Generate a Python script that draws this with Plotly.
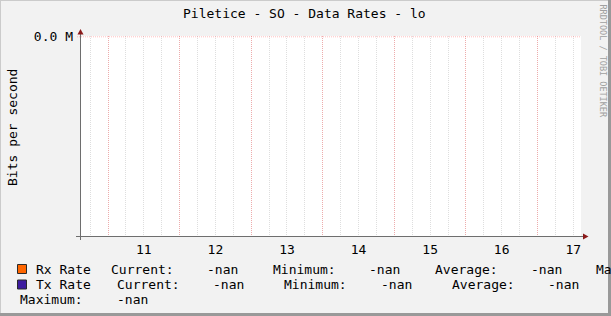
import plotly.graph_objects as go

# ---------------- data ----------------
day_ticks = [11.5, 12.5, 13.5, 14.5, 15.5, 16.5, 17.5]      # noon of each day (label position)
day_labels = ["11", "12", "13", "14", "15", "16", "17"]
day_bounds = [11, 12, 13, 14, 15, 16, 17]                    # midnights (major grid)
x_range = [10.608, 17.608]

sample_times = [11, 12, 13, 14, 15, 16, 17]
rx_rate = [None, None, None, None, None, None, None]        # all NaN in source
tx_rate = [None, None, None, None, None, None, None]

y_tickvals = [0]
y_ticktext = ["0.0 M"]

series_names = ["Rx Rate", "Tx Rate"]
series_colors = ["#FF6600", "#3D1C9F"]
stat_labels = ["Current:", "Minimum:", "Average:", "Maximum:"]
rx_stats = ["-nan", "-nan", "-nan", "-nan"]
tx_stats = ["-nan", "-nan", "-nan", "-nan"]

title = "Piletice - SO - Data Rates - lo"
y_title = "Bits per second"
watermark = "RRDTOOL / TOBI OETIKER"

# ---------------- geometry helpers ----------------
W, H = 611, 316
L, R, T, B = 80, 30, 36, 80
PW, PH = W - L - R, H - T - B
FONT = "DejaVu Sans Mono"


def xp(px):
    return (px - L) / PW


def yp(py):
    return (H - B - py) / PH


fig = go.Figure()
fig.add_trace(go.Scatter(x=sample_times, y=rx_rate, mode="lines", name=series_names[0],
                         line=dict(color=series_colors[0]), showlegend=False, xaxis="x", yaxis="y"))
fig.add_trace(go.Scatter(x=sample_times, y=tx_rate, mode="lines", name=series_names[1],
                         line=dict(color=series_colors[1]), showlegend=False, xaxis="x2", yaxis="y"))

MAJ = "rgba(255,110,110,0.45)"
MIN = "rgba(195,195,195,0.55)"

shapes = []
annotations = []

# frame
shapes.append(dict(type="line", xref="paper", yref="paper", x0=xp(0.5), x1=xp(0.5), y0=yp(0), y1=yp(H),
                   line=dict(color="#CBCBCB", width=1)))
shapes.append(dict(type="line", xref="paper", yref="paper", x0=xp(0), x1=xp(W), y0=yp(0.5), y1=yp(0.5),
                   line=dict(color="#CBCBCB", width=1)))
shapes.append(dict(type="line", xref="paper", yref="paper", x0=xp(W - 1.5), x1=xp(W - 1.5), y0=yp(0), y1=yp(H),
                   line=dict(color="#999999", width=3)))
shapes.append(dict(type="line", xref="paper", yref="paper", x0=xp(0), x1=xp(W), y0=yp(H - 1.5), y1=yp(H - 1.5),
                   line=dict(color="#999999", width=3)))

# major horizontal grid line at the y tick (edge of plot, so drawn explicitly)
for v in y_tickvals:
    shapes.append(dict(type="line", xref="paper", yref="y", x0=xp(77), x1=1, y0=v, y1=v,
                       line=dict(color=MAJ, width=1, dash="1px,1px"), layer="above"))

# axis lines + arrows
AX = "#6E6E6E"
AR = "#8B1A1A"
shapes.append(dict(type="line", xref="paper", yref="paper", x0=xp(76), x1=xp(584), y0=yp(236.5), y1=yp(236.5),
                   line=dict(color=AX, width=1)))
shapes.append(dict(type="line", xref="paper", yref="paper", x0=xp(80.5), x1=xp(80.5), y0=yp(240), y1=yp(33),
                   line=dict(color=AX, width=1)))
shapes.append(dict(type="path", xref="paper", yref="paper",
                   path=f"M {xp(583)},{yp(233.5)} L {xp(588.5)},{yp(236.5)} L {xp(583)},{yp(239.5)} Z",
                   fillcolor=AR, line=dict(width=0)))
shapes.append(dict(type="path", xref="paper", yref="paper",
                   path=f"M {xp(77.5)},{yp(34.5)} L {xp(80.5)},{yp(29)} L {xp(83.5)},{yp(34.5)} Z",
                   fillcolor=AR, line=dict(width=0)))

# title, y-title, watermark
annotations.append(dict(text=title, xref="paper", yref="paper", x=xp(304), y=yp(14), showarrow=False,
                        xanchor="center", yanchor="middle", font=dict(family=FONT, size=13, color="#000")))
annotations.append(dict(text=y_title, xref="paper", yref="paper", x=xp(12), y=yp(128), showarrow=False,
                        textangle=-90, xanchor="center", yanchor="middle",
                        font=dict(family=FONT, size=13, color="#000")))
annotations.append(dict(text=watermark, xref="paper", yref="paper", x=xp(602.5), y=yp(61), showarrow=False,
                        textangle=90, xanchor="center", yanchor="middle",
                        font=dict(family=FONT, size=8.5, color="#A0A0A0")))

# legend
rows = [
    (269, series_names[0], series_colors[0],
     [(109, stat_labels[0]), (205.4, rx_stats[0]), (270.5, stat_labels[1]), (367, rx_stats[1]),
      (433.4, stat_labels[2]), (528.8, rx_stats[2]), (594.3, stat_labels[3])]),
    (284.5, series_names[1], series_colors[1],
     [(115, stat_labels[0]), (210.8, tx_stats[0]), (282.2, stat_labels[1]), (378.8, tx_stats[1]),
      (450.1, stat_labels[2]), (545.6, tx_stats[2])]),
]
for ry, name, col, parts in rows:
    shapes.append(dict(type="rect", xref="paper", yref="paper", x0=xp(17.5), x1=xp(26.5),
                       y0=yp(ry - 4.5), y1=yp(ry + 4.5), fillcolor=col, line=dict(color="#2A2A2A", width=1)))
    annotations.append(dict(text=name, xref="paper", yref="paper", x=xp(34), y=yp(ry), showarrow=False,
                            xanchor="left", yanchor="middle", font=dict(family=FONT, size=13, color="#000")))
    for px, t in parts:
        annotations.append(dict(text=t, xref="paper", yref="paper", x=xp(px), y=yp(ry), showarrow=False,
                                xanchor="left", yanchor="middle", font=dict(family=FONT, size=13, color="#000")))
for px, t in [(18.2, stat_labels[3]), (115, tx_stats[3])]:
    annotations.append(dict(text=t, xref="paper", yref="paper", x=xp(px), y=yp(299.5), showarrow=False,
                            xanchor="left", yanchor="middle", font=dict(family=FONT, size=13, color="#000")))

fig.update_layout(
    width=W, height=H,
    margin=dict(l=L, r=R, t=T, b=B, pad=0),
    paper_bgcolor="#F2F2F2", plot_bgcolor="#FFFFFF",
    showlegend=False,
    shapes=shapes, annotations=annotations,
    xaxis=dict(range=x_range, tickvals=day_bounds, ticktext=[""] * len(day_bounds), showticklabels=False,
               showgrid=True, gridcolor=MAJ, griddash="1px,1px", gridwidth=1, zeroline=False, showline=False,
               ticks="", fixedrange=True,
               minor=dict(dtick=0.25, tick0=0, showgrid=True, gridcolor=MIN, griddash="1px,1px", gridwidth=1)),
    xaxis2=dict(range=x_range, overlaying="x", side="bottom", tickvals=day_ticks, ticktext=day_labels,
                showgrid=False, zeroline=False, showline=False, ticks="", ticklabelstandoff=4,
                tickfont=dict(family=FONT, size=13, color="#000"), fixedrange=True),
    yaxis=dict(range=[-1, 0.004], tickvals=y_tickvals, ticktext=y_ticktext, showgrid=False,
               zeroline=False, showline=False, ticks="", ticklabelstandoff=6,
               tickfont=dict(family=FONT, size=13, color="#000"), fixedrange=True),
)

fig.write_html("out.html")
